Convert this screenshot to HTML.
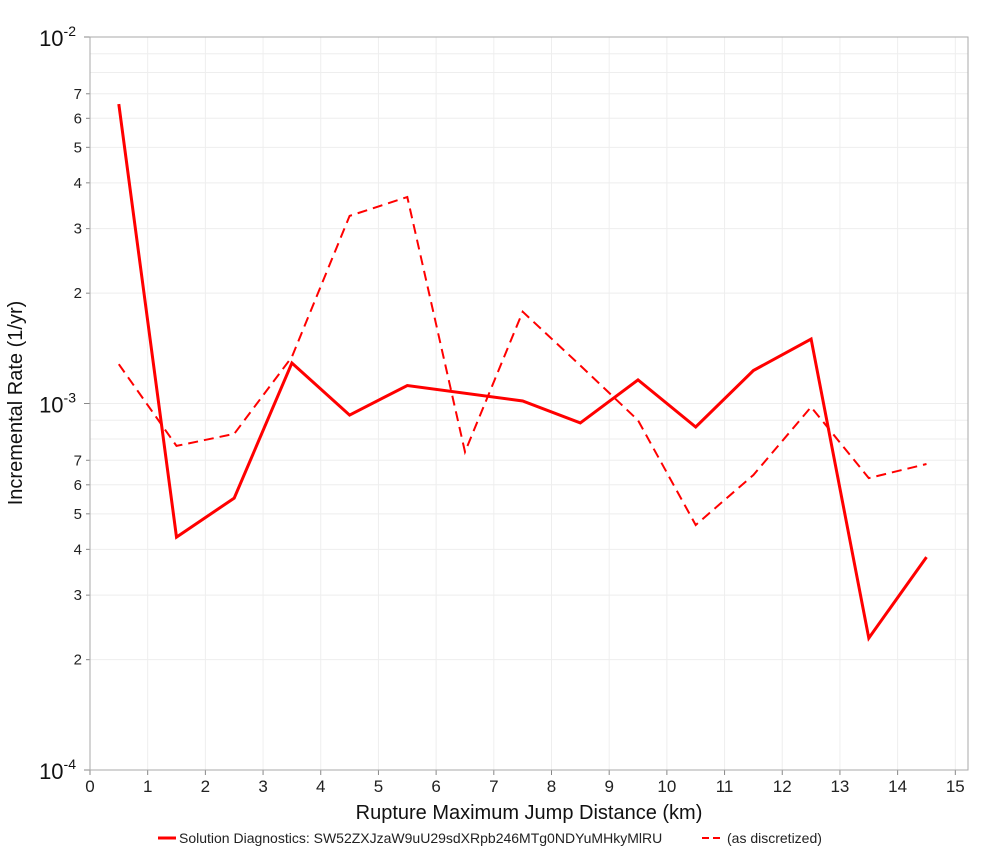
<!DOCTYPE html>
<html><head><meta charset="utf-8"><style>
body{margin:0;background:#fff;font-family:"Liberation Sans","DejaVu Sans",sans-serif}
</style></head><body>
<svg id="chart" width="1000" height="850" xmlns="http://www.w3.org/2000/svg"></svg>
<script>
const xCats=[0.5,1.5,2.5,3.5,4.5,5.5,6.5,7.5,8.5,9.5,10.5,11.5,12.5,13.5,14.5];
const solidVals=[6.56e-3,4.32e-4,5.52e-4,1.29e-3,9.3e-4,1.12e-3,null,1.016e-3,8.85e-4,1.16e-3,8.63e-4,1.23e-3,1.50e-3,2.29e-4,3.81e-4];
const dashVals=[1.28e-3,7.66e-4,8.26e-4,1.34e-3,3.25e-3,3.66e-3,7.38e-4,1.78e-3,1.27e-3,9.0e-4,4.66e-4,6.38e-4,9.78e-4,6.26e-4,6.84e-4];
const xTicks=[0,1,2,3,4,5,6,7,8,9,10,11,12,13,14,15];
const minorLabels=[2,3,4,5,6,7];
const L=90,R=968,T=37,B=770,XMAX=15.22;
const X=v=>L+v/XMAX*(R-L);
const Y=v=>T+(-2-Math.log10(v))/2*(B-T);
const svg=document.getElementById('chart');const NS='http://www.w3.org/2000/svg';
function el(t,a,p){const e=document.createElementNS(NS,t);for(const k in a)e.setAttribute(k,a[k]);(p||svg).appendChild(e);return e;}
const grid=el('g',{});
el('rect',{x:L,y:T,width:R-L,height:B-T,fill:'#fff'},grid);
xTicks.forEach(t=>{el('line',{x1:X(t),x2:X(t),y1:T,y2:B,stroke:'#eee'},grid);
 el('line',{x1:X(t),x2:X(t),y1:B,y2:B+5,stroke:'#888'});
 const tx=el('text',{x:X(t),y:B+22,'text-anchor':'middle','font-size':'17',fill:'#222'});tx.textContent=t;
 });
[-3,-4].forEach(d=>{minorLabels.concat([8,9]).forEach(m=>{const v=m*Math.pow(10,d);const y=Y(v);
 el('line',{x1:L,x2:R,y1:y,y2:y,stroke:'#eee'},grid);
 if(minorLabels.includes(m)){el('line',{x1:L-4,x2:L,y1:y,y2:y,stroke:'#888'});
 const tx=el('text',{x:L-8,y:y+5,'text-anchor':'end','font-size':'15',fill:'#222'});tx.textContent=m;
 }});});
[-2,-3,-4].forEach(d=>{const y=Y(Math.pow(10,d));el('line',{x1:L,x2:R,y1:y,y2:y,stroke:'#eee'},grid);
 el('line',{x1:L-6,x2:L,y1:y,y2:y,stroke:'#888'});
 const tx=el('text',{x:L-14,y:y+9,'text-anchor':'end','font-size':'22',fill:'#111'});
 tx.innerHTML='10<tspan dy="-10" font-size="14">'+d+'</tspan>';
 });
const border=el('rect',{x:L,y:T,width:R-L,height:B-T,fill:'none',stroke:'#aaa'});

function pathOf(vals){let d='';xCats.forEach((x,i)=>{if(vals[i]!=null)d+=(d?'L':'M')+X(x).toFixed(1)+','+Y(vals[i]).toFixed(1);});return d;}
const s=el('path',{d:pathOf(solidVals),fill:'none',stroke:'#f00','stroke-width':3});

const ds=el('path',{d:pathOf(dashVals),fill:'none',stroke:'#f00','stroke-width':2,'stroke-dasharray':'10,6'});

const xt=el('text',{x:529,y:819,'text-anchor':'middle','font-size':'20',fill:'#111'});xt.textContent='Rupture Maximum Jump Distance (km)';

const yt=el('text',{x:0,y:0,transform:'translate(22,403) rotate(-90)','text-anchor':'middle','font-size':'20',fill:'#111'});yt.textContent='Incremental Rate (1/yr)';

const lg=el('g',{});
el('line',{x1:158,x2:176,y1:838,y2:838,stroke:'#f00','stroke-width':3},lg);
let t1=el('text',{x:179,y:843,'font-size':'14',fill:'#222'},lg);t1.textContent='Solution Diagnostics: SW52ZXJzaW9uU29sdXRpb246MTg0NDYuMHkyMlRU';
el('line',{x1:702,x2:722,y1:838,y2:838,stroke:'#f00','stroke-width':2,'stroke-dasharray':'7,4'},lg);
let t2=el('text',{x:727,y:843,'font-size':'14',fill:'#222'},lg);t2.textContent='(as discretized)';
</script>
</body></html>
